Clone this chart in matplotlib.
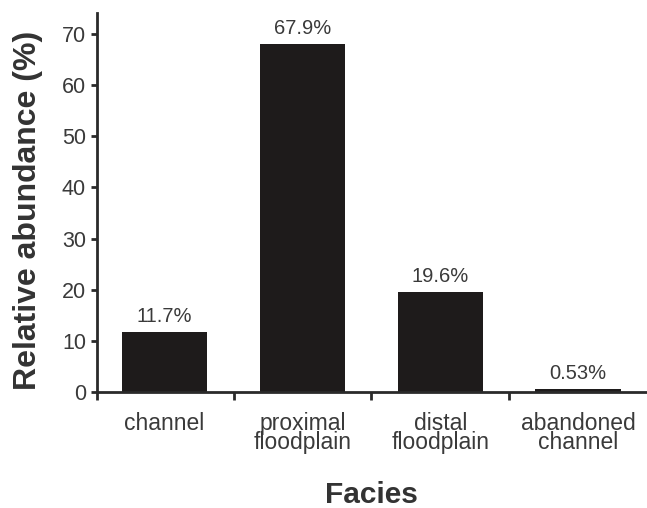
import numpy as np
import matplotlib.pyplot as plt

# Относительная доля фаций
facies = ["channel", "proximal\nfloodplain", "distal\nfloodplain", "abandoned\nchannel"]
abundance = [11.7, 67.9, 19.6, 0.53]
value_labels = ["11.7%", "67.9%", "19.6%", "0.53%"]

plt.rcParams['font.family'] = ['Liberation Sans', 'DejaVu Sans']

fig = plt.figure(figsize=(6.47, 5.08), dpi=100)
ax = fig.add_axes([0.15, 0.228, 0.85, 0.746])

x = np.arange(len(facies))
ax.bar(x, abundance, width=0.62, color='#1e1b1b')

for xi, val, lab in zip(x, abundance, value_labels):
    ax.text(xi, val + 2.0, lab, ha='center', va='baseline', fontsize=14.5, color='#3a3a3a')

ax.set_xlim(-0.49, 3.5)
ax.set_ylim(0, 74)

# оси как в исходной графике: только левая и нижняя
for side in ['top', 'right']:
    ax.spines[side].set_visible(False)
for side in ['left', 'bottom']:
    ax.spines[side].set_linewidth(2)
    ax.spines[side].set_color('#2a2a2a')

ax.set_yticks(range(0, 71, 10))
ax.tick_params(axis='y', direction='out', length=4, width=2, color='#2a2a2a',
               labelsize=15.5, labelcolor='#3a3a3a', pad=4)

# метки категорий отдельно, засечки — между столбцами
ax.set_xticks([-0.49, 0.5, 1.5, 2.5])
ax.set_xticklabels([])
ax.tick_params(axis='x', direction='out', length=6, width=2, color='#2a2a2a')
for xi, name in zip(x, facies):
    ax.text(xi, -3.8, name, ha='center', va='top', fontsize=16.5, color='#3a3a3a',
            linespacing=0.82)

fig.text(0.043, 0.585, "Relative abundance (%)", rotation=90, ha='center', va='center',
         fontsize=23, fontweight='bold', color='#333333')
fig.text(0.574, 0.01, "Facies", ha='center', va='baseline',
         fontsize=21.5, fontweight='bold', color='#333333')

fig.savefig("out.png", dpi=100)
